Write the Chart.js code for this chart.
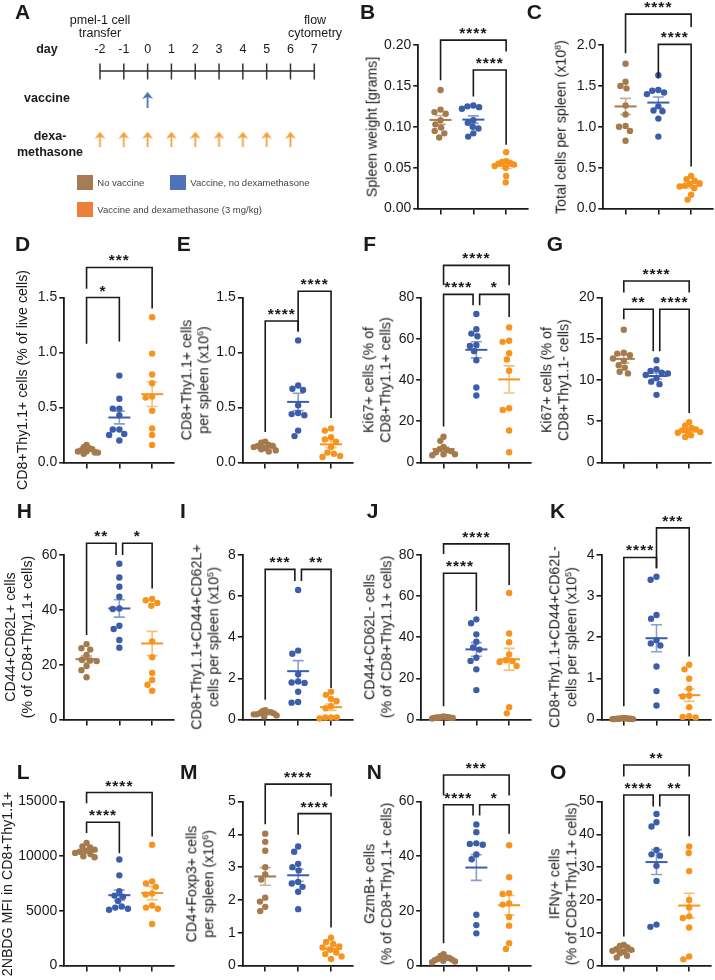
<!DOCTYPE html>
<html>
<head>
<meta charset="utf-8">
<script src="https://cdn.jsdelivr.net/npm/chart.js@4.4.1/dist/chart.umd.min.js"></script>
<style>
  body { margin: 0; background: #fff; }
  #fig { position: relative; width: 715px; height: 980px; overflow: hidden;
         font-family: "Liberation Sans", Arial, sans-serif; color: #1a1a1a; }
  #fig canvas { position: absolute; }
  .letter { position: absolute; font-weight: bold; font-size: 21px; line-height: 21px; }
  .ytitle { position: absolute; white-space: nowrap; text-align: center; font-size: 14.2px;
            line-height: 16.7px; transform: translate(-50%, -50%) rotate(-90deg); }
  .ytitle sup { font-size: 9px; line-height: 0; vertical-align: 5px; }
  .txt { position: absolute; white-space: nowrap; text-align: center; transform: translate(-50%, -50%); }
  .sq { position: absolute; width: 16px; height: 15px; }
  .leg { position: absolute; white-space: nowrap; font-size: 9.5px; color: #444; transform: translateY(-50%); }
</style>
</head>
<body>
<div id="fig"></div>
<script>
// groups
const groupNames = ['No vaccine', 'Vaccine, no dexamethasone', 'Vaccine and dexamethasone (3 mg/kg)'];
const dotColors = ['#a57a4c', '#3c5daa', '#f7941d'];
const semColors = ['rgba(165,122,76,0.6)', 'rgba(60,93,170,0.6)', 'rgba(247,148,29,0.6)'];
const legendColors = ['#a67c52', '#5072b8', '#ee7f3b'];

// panel A schedule
const days = [-2, -1, 0, 1, 2, 3, 4, 5, 6, 7];
const vaccineDays = [0];
const dexDays = [-2, -1, 0, 1, 2, 3, 4, 5, 6];

// B spleen weight
const bTicks = ['0.00', '0.05', '0.10', '0.15', '0.20'];
const bNoVac = [0.145, 0.121, 0.118, 0.116, 0.108, 0.103, 0.099, 0.095, 0.092, 0.087];
const bVac = [0.126, 0.125, 0.124, 0.122, 0.108, 0.105, 0.100, 0.098, 0.092, 0.088];
const bVacDex = [0.069, 0.058, 0.057, 0.056, 0.055, 0.054, 0.052, 0.050, 0.040, 0.032];
const bStats = [[1, 3, '****'], [2, 3, '****']];

// C total cells
const cTicks = ['0.0', '0.5', '1.0', '1.5', '2.0'];
const cNoVac = [1.77, 1.55, 1.50, 1.47, 1.26, 1.15, 1.01, 1.00, 0.95, 0.83];
const cVac = [1.63, 1.45, 1.44, 1.42, 1.40, 1.25, 1.20, 1.19, 1.10, 0.88];
const cVacDex = [0.40, 0.36, 0.34, 0.31, 0.30, 0.28, 0.27, 0.25, 0.17, 0.11];
const cStats = [[1, 3, '****'], [2, 3, '****']];

// D CD8+Thy1.1+ % live
const dTicks = ['0.0', '0.5', '1.0', '1.5'];
const dNoVac = [0.16, 0.14, 0.13, 0.12, 0.11, 0.10, 0.10, 0.09, 0.09, 0.08];
const dVac = [0.79, 0.58, 0.49, 0.49, 0.43, 0.30, 0.30, 0.26, 0.25, 0.20];
const dVacDex = [1.32, 0.99, 0.80, 0.72, 0.60, 0.59, 0.47, 0.31, 0.25, 0.16];
const dStats = [[1, 3, '***'], [1, 2, '*']];

// E CD8+Thy1.1+ per spleen
const eTicks = ['0.0', '0.5', '1.0', '1.5'];
const eNoVac = [0.19, 0.18, 0.16, 0.15, 0.15, 0.14, 0.13, 0.12, 0.11, 0.10];
const eVac = [1.11, 0.70, 0.67, 0.66, 0.52, 0.45, 0.44, 0.43, 0.29, 0.24];
const eVacDex = [0.31, 0.29, 0.23, 0.21, 0.19, 0.14, 0.09, 0.08, 0.06, 0.05];
const eStats = [[1, 2, '****'], [2, 3, '****']];

// F Ki67 in Thy1.1+
const fTicks = ['0', '20', '40', '60', '80'];
const fNoVac = [12.5, 10.5, 7.5, 6.5, 6, 5.5, 5, 4, 4, 3.5];
const fVac = [72, 64.6, 62.5, 61.2, 57, 56.5, 54, 49.6, 36.4, 32.5];
const fVacDex = [65.5, 59, 58.5, 53, 50, 44.5, 26.3, 25.5, 15.5, 5];
const fStats = [[1, 3, '****'], [1, 2, '****'], [2, 3, '*']];

// G Ki67 in Thy1.1-
const gTicks = ['0', '5', '10', '15', '20'];
const gNoVac = [16.1, 13.3, 13.2, 13.0, 12.6, 12.3, 11.8, 11.5, 11.0, 10.8];
const gVac = [12.4, 11.3, 11.1, 10.9, 10.8, 10.6, 10.2, 9.8, 9.5, 8.2];
const gVacDex = [4.9, 4.5, 4.2, 4.0, 3.9, 3.8, 3.7, 3.6, 3.3, 3.1];
const gStats = [[1, 3, '****'], [1, 2, '**'], [2, 3, '****']];

// H CD44+CD62L+ %
const hTicks = ['0', '20', '40', '60'];
const hNoVac = [27.5, 26, 25.5, 23.5, 21.8, 21.5, 21.3, 19.5, 18.0, 15.4];
const hVac = [56.8, 51.8, 48.4, 44.8, 40.5, 40.3, 34.2, 33, 29, 26.2];
const hVacDex = [44.0, 43.5, 42.5, 41.5, 28.5, 22.7, 17, 14.4, 12.7, 10.5];
const hStats = [[1, 2, '**'], [2, 3, '*']];

// I CD44+CD62L+ per spleen
const iTicks = ['0', '2', '4', '6', '8'];
const iNoVac = [0.45, 0.40, 0.35, 0.35, 0.30, 0.30, 0.25, 0.25, 0.20, 0.15];
const iVac = [6.3, 3.35, 3.2, 2.2, 1.85, 1.8, 1.78, 1.35, 0.85, 0.82];
const iVacDex = [1.35, 1.2, 1.0, 0.9, 0.65, 0.55, 0.1, 0.1, 0.1, 0.05];
const iStats = [[1, 2, '***'], [2, 3, '**']];

// J CD44+CD62L- %
const jTicks = ['0', '20', '40', '60', '80'];
const jNoVac = [1.5, 1.3, 1.2, 1.1, 1.0, 1.0, 0.9, 0.8, 0.7, 0.5];
const jVac = [48.7, 46.8, 41.4, 37.8, 35, 34, 30, 28.5, 24.4, 14.3];
const jVacDex = [61.5, 41.8, 37.6, 31.6, 28.8, 28.5, 28.0, 26, 6.0, 3.0];
const jStats = [[1, 3, '****'], [1, 2, '****']];

// K CD44+CD62L- per spleen
const kTicks = ['0', '1', '2', '3', '4'];
const kNoVac = [0.04, 0.03, 0.03, 0.02, 0.02, 0.02, 0.02, 0.01, 0.01, 0.01];
const kVac = [3.47, 3.40, 2.54, 2.45, 1.93, 1.85, 1.80, 1.29, 0.69, 0.34];
const kVacDex = [1.33, 1.22, 0.99, 0.75, 0.58, 0.56, 0.30, 0.08, 0.06, 0.05];
const kStats = [[1, 2, '****'], [2, 3, '***']];

// L 2NBDG MFI
const lTicks = ['0', '5000', '10000', '15000'];
const lNoVac = [11200, 10900, 10800, 10600, 10500, 10400, 10300, 10200, 10000, 9900];
const lVac = [9700, 8250, 6800, 6400, 6300, 5900, 5400, 5300, 5200, 5100];
const lVacDex = [11050, 7700, 7500, 7200, 6600, 6500, 5500, 5300, 5200, 3800];
const lStats = [[1, 3, '****'], [1, 2, '****']];

// M CD4+Foxp3+ per spleen
const mTicks = ['0', '1', '2', '3', '4', '5'];
const mNoVac = [4.02, 3.77, 3.50, 3.00, 2.78, 2.62, 2.07, 1.95, 1.79, 1.66];
const mVac = [3.63, 3.47, 3.1, 3.0, 2.9, 2.55, 2.5, 2.4, 2.25, 1.72];
const mVacDex = [0.85, 0.72, 0.66, 0.58, 0.55, 0.48, 0.40, 0.35, 0.28, 0.20];
const mStats = [[1, 3, '****'], [2, 3, '****']];

// N GzmB+
const nTicks = ['0', '20', '40', '60'];
const nNoVac = [4.2, 3.5, 3.0, 2.8, 2.5, 2.2, 2.0, 1.8, 1.5, 1.2];
const nVac = [51.6, 48.8, 44.7, 44.5, 44.2, 40.6, 38.9, 18.6, 14.8, 11.8];
const nVacDex = [44, 32.3, 26.5, 26.2, 22.7, 22.3, 17.8, 14.6, 8.2, 6.1];
const nStats = [[1, 3, '***'], [1, 2, '****'], [2, 3, '*']];

// O IFNg+
const oTicks = ['0', '10', '20', '30', '40', '50'];
const oNoVac = [6.3, 6.0, 5.5, 5.0, 4.8, 4.5, 4.2, 3.8, 3.0, 2.5];
const oVac = [46.2, 43.7, 42.4, 35.2, 33.9, 33.5, 30.4, 25.8, 12.5, 11.8];
const oVacDex = [36.3, 34.3, 28.8, 20, 17.7, 15.0, 14.5, 11.6, 2.8, 1.9];
const oStats = [[1, 3, '**'], [1, 2, '****'], [2, 3, '**']];

// layout
const colLeft = [-4, 178, 357, 536];
const catFirst = [86.7, 265.3, 443.7, 624];
const rowTop = [0, 232, 478, 724];
const plotTop = [45, 297.5, 555, 801.5];
const plotZero = [209, 462.5, 719.5, 966];
const CAT_W = 33;
const INK = '#1a1a1a';
const FONT = '"Liberation Sans", Arial, sans-serif';

Chart.defaults.font.family = FONT;
Chart.defaults.color = INK;

// geom: [bar, leg end A, leg end B, shift A, shift B]
const panels = [
  {id: 'B', row: 0, col: 2, first: 440.7, tx: 371.5, values: [bNoVac, bVac, bVacDex], ticks: bTicks, stats: bStats,
   title: ['Spleen weight [grams]'], geom: [[0.206, 0.157, 0.192], [0.1695, 0.137, 0.078]]},
  {id: 'C', row: 0, col: 3, first: 625.7, tx: 560.5, values: [cNoVac, cVac, cVacDex], ticks: cTicks, stats: cStats,
   title: ['Total cells per spleen (x10<sup>8</sup>)'], geom: [[2.378, 1.90, 2.22], [2.008, 1.594, 0.516]]},
  {id: 'D', row: 1, col: 0, tx: 22, values: [dNoVac, dVac, dVacDex], ticks: dTicks, stats: dStats,
   title: ['CD8+Thy1.1+ cells (% of live cells)'], geom: [[1.773, 1.58, 1.40], [1.50, 1.08, 1.10]]},
  {id: 'E', row: 1, col: 1, tx: 195, values: [eNoVac, eVac, eVacDex], ticks: eTicks, stats: eStats,
   title: ['CD8+Thy1.1+ cells', 'per spleen (x10<sup>6</sup>)'], geom: [[1.287, 0.278, 1.19], [1.557, 1.19, 0.405]]},
  {id: 'F', row: 1, col: 2, tx: 376.7, values: [fNoVac, fVac, fVacDex], ticks: fTicks, stats: fStats,
   title: ['Ki67+ cells (% of', 'CD8+Thy1.1+ cells)'],
   geom: [[95.6, 86, 86], [81.5, 17.4, 76.3, 0, -0.1], [81.5, 76.3, 70.6, 0.1, 0]]},
  {id: 'G', row: 1, col: 3, tx: 555, values: [gNoVac, gVac, gVacDex], ticks: gTicks, stats: gStats,
   title: ['Ki67+ cells (% of', 'CD8+Thy1.1- cells)'],
   geom: [[22.0, 20.6, 20.6], [18.58, 17.36, 13.5, 0, -0.1], [18.58, 13.5, 6.0, 0.1, 0]]},
  {id: 'H', row: 2, col: 0, tx: 19.3, values: [hNoVac, hVac, hVacDex], ticks: hTicks, stats: hStats,
   title: ['CD44+CD62L+ cells', '(% of CD8+Thy1.1+ cells)'],
   geom: [[64.3, 30.8, 60, 0, -0.1], [64.3, 60, 47.8, 0.1, 0]]},
  {id: 'I', row: 2, col: 1, tx: 205, values: [iNoVac, iVac, iVacDex], ticks: iTicks, stats: iStats,
   title: ['CD8+Thy1.1+CD44+CD62L+', 'cells per spleen (x10<sup>5</sup>)'],
   geom: [[7.30, 0.96, 6.73, 0, -0.1], [7.30, 6.73, 1.53, 0.1, 0]]},
  {id: 'J', row: 2, col: 2, tx: 377.8, values: [jNoVac, jVac, jVacDex], ticks: jTicks, stats: jStats,
   title: ['CD44+CD62L- cells', '(% of CD8+Thy1.1+ cells)'], geom: [[85.4, 80.5, 65.4], [71.1, 6.5, 52.8]]},
  {id: 'K', row: 2, col: 3, tx: 562.5, values: [kNoVac, kVac, kVacDex], ticks: kTicks, stats: kStats,
   title: ['CD8+Thy1.1+CD44+CD62L-', 'cells per spleen (x10<sup>5</sup>)'], geom: [[3.94, 0.32, 3.68], [4.66, 3.68, 1.53]]},
  {id: 'L', row: 3, col: 0, tx: 7.3, values: [lNoVac, lVac, lVacDex], ticks: lTicks, stats: lStats,
   title: ['2NBDG MFI in CD8+Thy1.1+'], geom: [[15820, 14845, 11800], [13110, 12110, 10280]]},
  {id: 'M', row: 3, col: 1, tx: 200, values: [mNoVac, mVac, mVacDex], ticks: mTicks, stats: mStats,
   title: ['CD4+Foxp3+ cells', 'per spleen (x10<sup>6</sup>)'], geom: [[5.53, 4.31, 5.15], [4.63, 3.99, 1.16]]},
  {id: 'N', row: 3, col: 2, tx: 377.8, values: [nNoVac, nVac, nVacDex], ticks: nTicks, stats: nStats,
   title: ['GzmB+ cells', '(% of CD8+Thy1.1+ cells)'],
   geom: [[69.7, 62.2, 62.2], [58.8, 8.2, 54.9, 0, -0.1], [58.8, 54.9, 48.2, 0.1, 0]]},
  {id: 'O', row: 3, col: 3, tx: 562.5, values: [oNoVac, oVac, oVacDex], ticks: oTicks, stats: oStats,
   title: ['IFNγ+ cells', '(% of CD8+Thy1.1+ cells)'],
   geom: [[61.1, 57.6, 57.6], [52.0, 8.9, 48.5, 0, -0.1], [52.0, 48.5, 39.4, 0.1, 0]]}
];

// panel letters: [letter, left, cap top]
const letters = [['A', 15, 3.3], ['B', 360, 3.3], ['C', 526.7, 3.3],
  ['D', 15, 235.5], ['E', 176.7, 235.5], ['F', 363.3, 235.5], ['G', 546.7, 235.5],
  ['H', 16.7, 503], ['I', 180, 503], ['J', 366.7, 503], ['K', 550, 503],
  ['L', 16.7, 764], ['M', 180, 764], ['N', 366.7, 764], ['O', 550, 764]];

const fig = document.getElementById('fig');

function addDiv(cls, html, style) {
  const d = document.createElement('div');
  d.className = cls;
  d.innerHTML = html;
  Object.assign(d.style, style);
  fig.appendChild(d);
  return d;
}

function mean(a) { return a.reduce((s, v) => s + v, 0) / a.length; }
function sem(a) {
  const m = mean(a);
  const sd = Math.sqrt(a.reduce((s, v) => s + (v - m) ** 2, 0) / (a.length - 1));
  return sd / Math.sqrt(a.length);
}

// simple beeswarm so dots don't overlap, squeezed if the group gets too wide
function swarm(vals, cx, pxPerUnit) {
  const D = 6.6, MAXW = 11.5;
  const order = vals.map((v, i) => i).sort((a, b) => vals[b] - vals[a]);
  const placed = [];
  const xs = new Array(vals.length);
  for (const i of order) {
    const yp = vals[i] * pxPerUnit;
    const blocks = placed.filter(q => Math.abs(q.y - yp) < D).map(q => {
      const w = Math.sqrt(D * D - (q.y - yp) ** 2);
      return [q.x - w, q.x + w];
    });
    const cands = [0];
    blocks.forEach(b => cands.push(b[0], b[1]));
    cands.sort((a, b) => Math.abs(a) - Math.abs(b) || a - b);
    let best = 0;
    for (const c of cands) {
      if (blocks.every(b => c <= b[0] + 1e-6 || c >= b[1] - 1e-6)) { best = c; break; }
    }
    placed.push({y: yp, x: best});
    xs[i] = best;
  }
  const maxAbs = Math.max(...xs.map(Math.abs));
  const k = maxAbs > MAXW ? MAXW / maxAbs : 1;
  return vals.map((v, i) => ({x: cx + xs[i] * k / CAT_W, y: v}));
}

const meanSemPlugin = {
  id: 'meanSem',
  afterDatasetsDraw(chart) {
    const {ctx, scales: {x, y}} = chart;
    chart.data.datasets.forEach((ds, g) => {
      const m = mean(ds.values), s = sem(ds.values);
      const cx = x.getPixelForValue(g + 1);
      const yt = y.getPixelForValue(m + s), yb = y.getPixelForValue(m - s), ym = y.getPixelForValue(m);
      ctx.save();
      ctx.strokeStyle = semColors[g];
      ctx.lineWidth = 1.6;
      ctx.beginPath();
      ctx.moveTo(cx, yt); ctx.lineTo(cx, yb);
      ctx.moveTo(cx - 5.5, yt); ctx.lineTo(cx + 5.5, yt);
      ctx.moveTo(cx - 5.5, yb); ctx.lineTo(cx + 5.5, yb);
      ctx.stroke();
      ctx.strokeStyle = dotColors[g];
      ctx.lineWidth = 2;
      ctx.beginPath();
      ctx.moveTo(cx - 11, ym); ctx.lineTo(cx + 11, ym);
      ctx.stroke();
      ctx.restore();
    });
  }
};

function bracketPlugin(p) {
  return {
    id: 'brackets',
    afterDraw(chart) {
      const {ctx, scales: {x, y}} = chart;
      ctx.save();
      ctx.strokeStyle = INK;
      ctx.fillStyle = INK;
      ctx.lineWidth = 1.6;
      ctx.font = 'bold 15.5px ' + FONT;
      ctx.textAlign = 'center';
      ctx.textBaseline = 'alphabetic';
      if ('letterSpacing' in ctx) ctx.letterSpacing = '1px';
      p.stats.forEach((st, i) => {
        const [bar, ea, eb, da = 0, db = 0] = p.geom[i];
        const pa = x.getPixelForValue(st[0] + da), pb = x.getPixelForValue(st[1] + db);
        const py = y.getPixelForValue(bar);
        ctx.beginPath();
        ctx.moveTo(pa, y.getPixelForValue(ea));
        ctx.lineTo(pa, py);
        ctx.lineTo(pb, py);
        ctx.lineTo(pb, y.getPixelForValue(eb));
        ctx.stroke();
        ctx.fillText(st[2], (pa + pb) / 2, py - 2);
      });
      ctx.restore();
    }
  };
}

function makeDotPlot(p) {
  const L = colLeft[p.col], T = rowTop[p.row];
  const first = p.first ?? catFirst[p.col];
  const axisLeft = first - 22.5;
  const axisRight = first + 2 * CAT_W + 22;
  const top = plotTop[p.row], zero = plotZero[p.row];
  const W = Math.ceil(axisRight - L + 3), H = Math.ceil(zero - T + 10);
  const canvas = document.createElement('canvas');
  canvas.width = W; canvas.height = H;
  canvas.style.left = L + 'px';
  canvas.style.top = T + 'px';
  fig.appendChild(canvas);

  const tickVals = p.ticks.map(Number);
  const yMax = tickVals[tickVals.length - 1];
  const pxPerUnit = (zero - top) / yMax;

  const datasets = p.values.map((vals, g) => ({
    label: groupNames[g],
    values: vals,
    data: swarm(vals, g + 1, pxPerUnit),
    backgroundColor: dotColors[g],
    pointRadius: 3.2,
    borderWidth: 0,
    clip: false
  }));

  new Chart(canvas, {
    type: 'scatter',
    data: {datasets},
    options: {
      responsive: false,
      animation: false,
      events: [],
      layout: {padding: {top: top - T, left: 0, right: W - (axisRight - L), bottom: 0}},
      plugins: {legend: {display: false}, tooltip: {enabled: false}},
      scales: {
        x: {
          type: 'linear', min: 1 - 22.5 / CAT_W, max: 3 + 22 / CAT_W,
          afterBuildTicks: s => { s.ticks = [1, 2, 3].map(v => ({value: v})); },
          afterFit: s => { s.height = H - (zero - T); },
          ticks: {display: false},
          grid: {drawOnChartArea: false, drawTicks: true, tickLength: 6, color: INK, lineWidth: 1.6},
          border: {display: true, color: INK, width: 1.8}
        },
        y: {
          type: 'linear', min: 0, max: yMax,
          afterBuildTicks: s => { s.ticks = tickVals.map(v => ({value: v})); },
          afterFit: s => { s.width = axisLeft - L; },
          ticks: {callback: (v, i) => p.ticks[i], color: INK, padding: 2, font: {size: 14}},
          grid: {drawOnChartArea: false, drawTicks: true, tickLength: 5, color: INK, lineWidth: 1.6},
          border: {display: true, color: INK, width: 1.8}
        }
      }
    },
    plugins: [meanSemPlugin, bracketPlugin(p)]
  });

  addDiv('ytitle', p.title.join('<br>'), {left: p.tx + 'px', top: ((top + zero) / 2) + 'px'});
}

// ---- panel A (timeline) ----
function arrowImg(color, h) {
  const c = document.createElement('canvas');
  c.width = 13; c.height = h;
  const g = c.getContext('2d');
  g.strokeStyle = color; g.fillStyle = color; g.lineWidth = 1.8;
  g.beginPath(); g.moveTo(6.5, 4); g.lineTo(6.5, h); g.stroke();
  g.beginPath(); g.moveTo(6.5, 0); g.lineTo(12, 7); g.lineTo(6.5, 5); g.lineTo(1, 7); g.closePath(); g.fill();
  return c;
}

const timelinePlugin = {
  id: 'timeline',
  afterDraw(chart) {
    const {ctx, scales: {x}} = chart;
    const yLine = 71;
    ctx.save();
    ctx.strokeStyle = '#333';
    ctx.lineWidth = 1.5;
    ctx.beginPath();
    ctx.moveTo(x.getPixelForValue(days[0]), yLine);
    ctx.lineTo(x.getPixelForValue(days[days.length - 1]), yLine);
    days.forEach(d => {
      const px = x.getPixelForValue(d);
      ctx.moveTo(px, yLine - 7.5); ctx.lineTo(px, yLine + 8.5);
    });
    ctx.stroke();
    ctx.fillStyle = INK;
    ctx.font = '12.5px ' + FONT;
    ctx.textAlign = 'center';
    ctx.textBaseline = 'middle';
    days.forEach(d => ctx.fillText(String(d), x.getPixelForValue(d), 50));
    ctx.restore();
  }
};

(function makeTimeline() {
  const canvas = document.createElement('canvas');
  canvas.width = 360; canvas.height = 230;
  canvas.style.left = '0px'; canvas.style.top = '0px';
  fig.appendChild(canvas);
  new Chart(canvas, {
    type: 'scatter',
    data: {datasets: [
      {data: vaccineDays.map(d => ({x: d, y: 1})), pointStyle: arrowImg('#4a6fb8', 16), clip: false},
      {data: dexDays.map(d => ({x: d, y: 2})), pointStyle: arrowImg('#f4a03a', 15), clip: false}
    ]},
    options: {
      responsive: false, animation: false, events: [],
      layout: {padding: {left: 100, right: 45.7, top: 0, bottom: 0}},
      plugins: {legend: {display: false}, tooltip: {enabled: false}},
      scales: {
        x: {type: 'linear', min: -2, max: 7, display: false},
        y: {type: 'linear', min: -1.4136, max: 4.1825, reverse: true, display: false}
      }
    },
    plugins: [timelinePlugin]
  });

  const t = {fontSize: '12.5px', lineHeight: '13.7px'};
  addDiv('txt', 'pmel-1 cell<br>transfer', {left: '100px', top: '27.5px', ...t});
  addDiv('txt', 'flow<br>cytometry', {left: '315px', top: '27.5px', ...t});
  const b = {fontSize: '12.5px', fontWeight: 'bold', lineHeight: '15.7px'};
  addDiv('txt', 'day', {left: '47px', top: '50px', ...b});
  addDiv('txt', 'vaccine', {left: '47px', top: '98.5px', ...b});
  addDiv('txt', 'dexa-<br>methasone', {left: '50px', top: '145px', ...b});

  const legPos = [[77, 175], [170, 175], [77, 201.7]];
  groupNames.forEach((name, g) => {
    const [lx, ly] = legPos[g];
    addDiv('sq', '', {left: lx + 'px', top: ly + 'px', background: legendColors[g]});
    addDiv('leg', name, {left: (lx + 20.3) + 'px', top: (ly + 7) + 'px'});
  });
})();

panels.forEach(makeDotPlot);

letters.forEach(([ch, lx, capTop]) => {
  addDiv('letter', ch, {left: lx + 'px', top: (capTop - 2.8) + 'px'});
});
</script>
</body>
</html>
